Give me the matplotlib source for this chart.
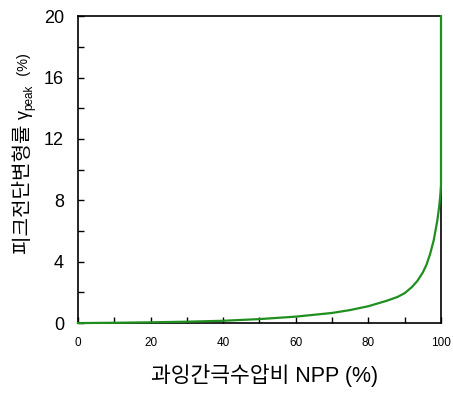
import matplotlib
matplotlib.use("Agg")
import matplotlib.pyplot as plt
from matplotlib.ticker import MultipleLocator

plt.rcParams['font.family'] = ['Liberation Sans', 'Noto Sans CJK KR', 'DejaVu Sans']

npp = [0, 10, 20, 30, 40, 50, 60, 70, 75, 80, 85, 88, 90, 92, 93.5, 95, 96, 97, 98, 99, 99.5, 99.8, 100, 100]
gamma = [0, 0.02, 0.05, 0.09, 0.15, 0.26, 0.42, 0.66, 0.85, 1.1, 1.45, 1.7, 1.95, 2.35, 2.75, 3.3, 3.8, 4.5, 5.4, 6.7, 7.6, 8.3, 9.0, 20]

xticks = [0, 20, 40, 60, 80, 100]
yticks = [0, 4, 8, 12, 16, 20]

W, H = 453, 394
fig = plt.figure(figsize=(W / 100, H / 100), dpi=100)
ax = fig.add_axes([0.172, 0.180, 0.8015, 0.779])
ax.plot(npp, gamma, color='#1f8f1f', lw=1.6, clip_on=False, zorder=5)
ax.set_xlim(0, 100)
ax.set_ylim(0, 20)
ax.set_xticks(xticks)
ax.set_yticks(yticks)
ax.xaxis.set_minor_locator(MultipleLocator(10))
ax.yaxis.set_minor_locator(MultipleLocator(2))
ax.tick_params(axis='both', which='both', direction='in', length=4, width=1)
ax.tick_params(axis='x', labelsize=8.5, pad=10)
ax.tick_params(axis='y', labelsize=13, pad=10)
for s in ax.spines.values():
    s.set_linewidth(1.2)
ax.set_xlabel('과잉간극수압비 NPP (%)', fontsize=15.5, labelpad=11)
ax.xaxis.label.set_x(0.515)

# y label built from pieces (rotated 90, reading bottom to top)
renderer = fig.canvas.get_renderer()
x_base = 29 / W
y = (H - 254) / H
pieces = [('피크전단변형률 ', 14.5, 0.0), ('γ', 13, 0.0), ('peak', 8.5, 3 / W), ('  (%)', 10.5, -1 / W)]
for txt, fs, dx in pieces:
    t = fig.text(x_base + dx, y, txt, fontsize=fs, rotation=90, ha='left', va='baseline',
                 rotation_mode='anchor')
    bb = t.get_window_extent(renderer)
    y += bb.height / H
fig.savefig('out.png', dpi=100)
